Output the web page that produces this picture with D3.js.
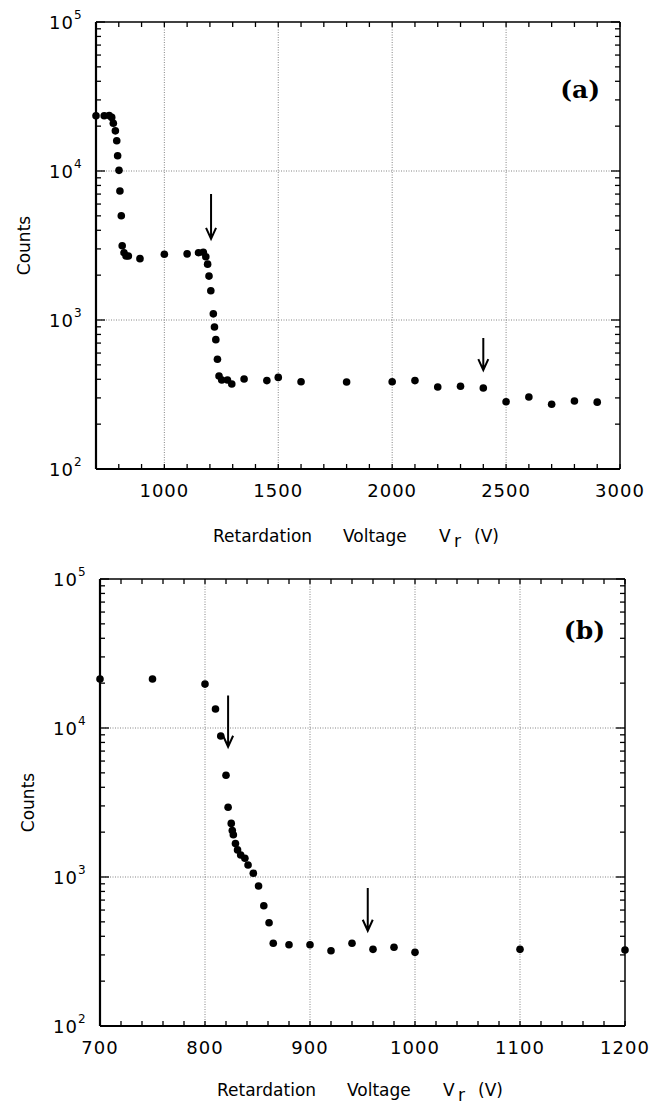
<!DOCTYPE html>
<html>
<head>
<meta charset="utf-8">
<script src="https://cdn.jsdelivr.net/npm/d3@7"></script>
<style>
  body { margin: 0; background: #fff; }
  svg { display: block; }
  .tick-label { font-family: "DejaVu Sans", sans-serif; font-size: 18px; letter-spacing: 1px; fill: #000; }
  .title { font-family: "DejaVu Sans", sans-serif; font-size: 17px; fill: #000; }
  .panel-tag { font-family: "DejaVu Serif", serif; font-weight: bold; font-size: 25px; fill: #000; }
</style>
</head>
<body>
<div id="container"></div>
<script>
/* DATA */
// panel (a): wide scan
const voltA = [700, 736, 758, 769, 776, 785, 791, 795, 801, 805, 811, 815, 823, 832, 842, 893,
  1000, 1100, 1150, 1171, 1182, 1190, 1196, 1204, 1215, 1220, 1226, 1233, 1240, 1252, 1277, 1296,
  1350, 1450, 1500, 1600, 1800, 2000, 2100, 2200, 2300, 2400, 2500, 2600, 2700, 2800, 2900]
const countsA = [23500, 23500, 23600, 22900, 20900, 18600, 15960, 12670, 10100, 7340, 5010, 3150, 2830, 2690, 2690, 2580,
  2760, 2780, 2830, 2850, 2660, 2370, 1970, 1570, 1100, 898, 738, 545, 421, 396, 396, 372,
  402, 392, 412, 385, 384, 385, 392, 355, 359, 350, 283, 304, 272, 286, 281]
// arrows: [voltage, top count, tip count]
const arrowsA = [[1205, 7000, 3500], [2400, 757, 461]]
const xTicksA = [1000, 1500, 2000, 2500, 3000]

// panel (b): zoom on the first edge
const voltB = [700, 750, 800, 810, 815, 820, 822, 825, 826, 827, 829, 831, 834, 838, 841, 846,
  851, 856, 861, 865, 880, 900, 920, 940, 960, 980, 1000, 1100, 1200]
const countsB = [21300, 21300, 19700, 13400, 8830, 4820, 2940, 2290, 2050, 1920, 1680, 1520, 1405, 1335, 1205, 1060,
  871, 642, 493, 359, 351, 351, 320, 359, 327, 338, 312, 327, 324]
const arrowsB = [[822, 16500, 7480], [955, 843, 436]]
const xTicksB = [700, 800, 900, 1000, 1100, 1200]

const yDecades = [100, 1000, 10000, 100000]

/* CONSTANTS */
const width = 665, height = 1106

const svg = d3.select("#container")
  .append("svg")
  .attr("width", width)
  .attr("height", height)

function drawPanel(o) {
  const x = d3.scaleLinear().domain(o.xDomain).range([o.left, o.right])
  const y = d3.scaleLog().domain([100, 100000]).range([o.bottom, o.top])
  const g = svg.append("g")

  // grid
  g.selectAll(".gx").data(o.xTicks.filter(v => v > o.xDomain[0] && v < o.xDomain[1]))
    .join("line")
    .attr("x1", d => x(d)).attr("x2", d => x(d))
    .attr("y1", o.top).attr("y2", o.bottom)
    .attr("stroke", "#666").attr("stroke-width", 0.8).attr("stroke-dasharray", "1,1.5")
  g.selectAll(".gy").data(yDecades.slice(1, 3))
    .join("line")
    .attr("x1", o.left).attr("x2", o.right)
    .attr("y1", d => y(d)).attr("y2", d => y(d))
    .attr("stroke", "#666").attr("stroke-width", 0.8).attr("stroke-dasharray", "1,1.5")

  // minor x ticks (inward, top and bottom)
  const xMinor = d3.range(o.xDomain[0], o.xDomain[1] + 0.1, o.xStep)
  g.selectAll(".tb").data(xMinor).join("line")
    .attr("x1", d => x(d)).attr("x2", d => x(d))
    .attr("y1", o.bottom).attr("y2", o.bottom - 5)
    .attr("stroke", "#000").attr("stroke-width", 1.3)
  g.selectAll(".tt").data(xMinor).join("line")
    .attr("x1", d => x(d)).attr("x2", d => x(d))
    .attr("y1", o.top).attr("y2", o.top + 5)
    .attr("stroke", "#000").attr("stroke-width", 1.3)

  // log y ticks
  const yMinor = []
  yDecades.slice(0, 3).forEach(d => { for (let k = 1; k < 10; k++) yMinor.push(d * k) })
  yMinor.push(100000)
  ;[o.left, o.right].forEach((edge, i) => {
    const dir = i === 0 ? 1 : -1
    g.selectAll(null).data(yMinor).join("line")
      .attr("x1", edge)
      .attr("x2", d => edge + dir * (Math.abs(Math.log10(d) % 1) < 1e-9 ? 9 : 5))
      .attr("y1", d => y(d)).attr("y2", d => y(d))
      .attr("stroke", "#000").attr("stroke-width", 1.3)
  })

  // frame
  g.append("line").attr("x1", o.left).attr("x2", o.right).attr("y1", o.top).attr("y2", o.top)
    .attr("stroke", "#000").attr("stroke-width", 1.5)
  g.append("line").attr("x1", o.right).attr("x2", o.right).attr("y1", o.top).attr("y2", o.bottom)
    .attr("stroke", "#000").attr("stroke-width", 1.5)
  g.append("line").attr("x1", o.left).attr("x2", o.right).attr("y1", o.bottom).attr("y2", o.bottom)
    .attr("stroke", "#000").attr("stroke-width", 2.2)
  g.append("line").attr("x1", o.left).attr("x2", o.left).attr("y1", o.top).attr("y2", o.bottom)
    .attr("stroke", "#000").attr("stroke-width", 2.2)

  // x tick labels
  g.selectAll(".xl").data(o.xTicks).join("text")
    .attr("class", "tick-label")
    .attr("x", d => x(d)).attr("y", o.bottom + 28)
    .attr("text-anchor", "middle")
    .text(d => d)

  // y tick labels 10^n
  const yl = g.selectAll(".yl").data(yDecades).join("text")
    .attr("class", "tick-label")
    .attr("x", o.left - 47).attr("y", d => y(d) + 7)
  yl.append("tspan").text("10")
  yl.append("tspan").attr("dy", -10).attr("font-size", 12).text(d => Math.round(Math.log10(d)))

  // axis titles
  const ty = o.bottom + o.titleGap
  g.append("text").attr("class", "title").attr("x", o.left + 117).attr("y", ty).text("Retardation")
  g.append("text").attr("class", "title").attr("x", o.left + 247).attr("y", ty).text("Voltage")
  g.append("text").attr("class", "title").attr("x", o.left + 343).attr("y", ty).text("V")
  g.append("text").attr("class", "title").attr("x", o.left + 358).attr("y", ty + 5)
    .attr("font-size", 11).text("r")
  g.append("text").attr("class", "title").attr("x", o.left + 378).attr("y", ty).text("(V)")
  g.append("text").attr("class", "title")
    .attr("transform", `translate(${o.left - 66}, ${(o.top + o.bottom) / 2}) rotate(-90)`)
    .attr("text-anchor", "middle")
    .text("Counts")

  // panel tag
  g.append("text").attr("class", "panel-tag")
    .attr("x", o.right - 20).attr("y", o.top + o.tagDy)
    .attr("text-anchor", "end")
    .text(o.tag)

  // points
  g.selectAll(".pt").data(o.volts.map((v, i) => [v, o.counts[i]])).join("circle")
    .attr("cx", d => x(d[0])).attr("cy", d => y(d[1]))
    .attr("r", 3.8).attr("fill", "#000")

  // arrows
  g.selectAll(".ar").data(o.arrows).join("path")
    .attr("d", d => {
      const ax = x(d[0]), y0 = y(d[1]), y1 = y(d[2])
      return `M${ax},${y0}L${ax},${y1}M${ax - 5},${y1 - 11}L${ax},${y1}L${ax + 5},${y1 - 11}`
    })
    .attr("fill", "none").attr("stroke", "#000").attr("stroke-width", 2)
}

drawPanel({
  left: 96, right: 620, top: 22, bottom: 469, titleGap: 73, tagDy: 76,
  xDomain: [700, 3000], xStep: 100, xTicks: xTicksA,
  volts: voltA, counts: countsA, arrows: arrowsA, tag: "(a)"
})

drawPanel({
  left: 100, right: 625, top: 579, bottom: 1026, titleGap: 70, tagDy: 60,
  xDomain: [700, 1200], xStep: 20, xTicks: xTicksB,
  volts: voltB, counts: countsB, arrows: arrowsB, tag: "(b)"
})
</script>
</body>
</html>
